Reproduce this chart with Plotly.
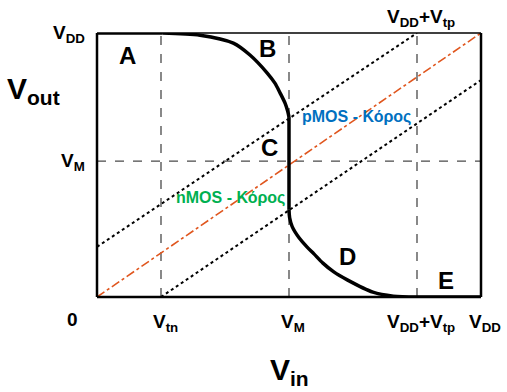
import plotly.graph_objects as go

# ---- data (units: VDD = 6) ----
VDD = 6.0
Vtn = 1.0
VM_in = 3.0
VDDVtp = 5.0
VM_out = 3.09

# transfer curve pieces
a_x = [0.0, 1.02]
a_y = [6.0, 6.0]
b_x = [1.02, 1.61, 2.13, 2.39, 2.66, 2.78, 2.86, 2.94, 2.98, 3.0]
b_y = [6.0, 5.95, 5.77, 5.5, 5.09, 4.86, 4.64, 4.4, 4.22, 4.09]
c_x = [3.0, 3.0]
c_y = [4.09, 1.98]
d_x = [3.0, 3.01, 3.05, 3.16, 3.28, 3.39, 3.53, 3.7, 3.91, 4.31, 4.63, 5.0]
d_y = [1.98, 1.8, 1.6, 1.34, 1.14, 0.98, 0.77, 0.57, 0.39, 0.11, 0.02, 0.0]
e_x = [5.0, 6.0]
e_y = [0.0, 0.0]

diag_x = [0.0, 6.0]
diag_y = [0.0, 6.0]
pmos_x = [0.0, 5.0]
pmos_y = [1.14, 6.0]
nmos_x = [1.0, 6.0]
nmos_y = [0.0, 4.93]

x_tick_vals = [1.0, 3.0, 5.0, 6.0]
x_tick_text = ["V<sub>tn</sub>", "V<sub>M</sub>", "V<sub>DD</sub>+V<sub>tp</sub>", "V<sub>DD</sub>"]
y_tick_vals = [6.0, 3.09]
y_tick_text = ["V<sub>DD</sub>", "V<sub>M</sub>"]

region_labels = ["A", "B", "C", "D", "E"]
region_x = [0.47, 2.67, 2.7, 3.92, 5.46]
region_y = [5.5, 5.65, 3.39, 0.91, 0.38]

FONT = "'Liberation Sans', Arial, sans-serif"
GRAY = "#4a4a4a"

fig = go.Figure()

# dashed guide lines
for xv in [Vtn, VM_in, VDDVtp]:
    fig.add_trace(go.Scatter(x=[xv, xv], y=[0, VDD], mode="lines",
                             line=dict(color=GRAY, width=1.3, dash="dash"), hoverinfo="skip"))
fig.add_trace(go.Scatter(x=[0, VDD], y=[VM_out, VM_out], mode="lines",
                         line=dict(color=GRAY, width=1.3, dash="dash"), hoverinfo="skip"))

# diagonal & load lines
fig.add_trace(go.Scatter(x=diag_x, y=diag_y, mode="lines",
                         line=dict(color="#E0561E", width=1.6, dash="dashdot"), hoverinfo="skip"))
fig.add_trace(go.Scatter(x=pmos_x, y=pmos_y, mode="lines",
                         line=dict(color="black", width=2, dash="dot"), hoverinfo="skip"))
fig.add_trace(go.Scatter(x=nmos_x, y=nmos_y, mode="lines",
                         line=dict(color="black", width=2, dash="dot"), hoverinfo="skip"))

# VTC
for px, py, shp in [(a_x, a_y, "linear"), (b_x, b_y, "spline"), (c_x, c_y, "linear"),
                    (d_x, d_y, "spline"), (e_x, e_y, "linear")]:
    fig.add_trace(go.Scatter(x=px, y=py, mode="lines", cliponaxis=False,
                             line=dict(color="black", width=3.5, shape=shp, smoothing=0.8),
                             hoverinfo="skip"))

annotations = []
# x tick labels
for v, t in zip(x_tick_vals, x_tick_text):
    annotations.append(dict(x=v, y=0, xref="x", yref="y", text="<b>" + t + "</b>",
                            showarrow=False, yanchor="middle", yshift=-26, xshift=4,
                            font=dict(family=FONT, size=19, color="black")))
annotations.append(dict(x=0, y=0, xref="x", yref="y", text="<b>0</b>", showarrow=False,
                        yshift=-22, xshift=-25, font=dict(family=FONT, size=19, color="black")))
# y tick labels
for v, t in zip(y_tick_vals, y_tick_text):
    annotations.append(dict(x=0, y=v, xref="x", yref="y", text="<b>" + t + "</b>",
                            showarrow=False, xanchor="right", xshift=-10, yshift=-1,
                            font=dict(family=FONT, size=19, color="black")))
# top label
annotations.append(dict(x=VDDVtp, y=VDD, xref="x", yref="y",
                        text="<b>V<sub>DD</sub>+V<sub>tp</sub></b>", showarrow=False,
                        yanchor="bottom", yshift=1, xshift=4,
                        font=dict(family=FONT, size=19, color="black")))
# axis titles
annotations.append(dict(x=-0.24, y=0.86, xref="paper", yref="paper",
                        text="<b>V<sub>out</sub></b>", showarrow=False,
                        font=dict(family=FONT, size=30, color="black")))
annotations.append(dict(x=0.5, y=-0.36, xref="paper", yref="paper",
                        text="<b>V<sub>in</sub></b>", showarrow=False,
                        font=dict(family=FONT, size=30, color="black")))
# region labels
for t, xv, yv in zip(region_labels, region_x, region_y):
    annotations.append(dict(x=xv, y=yv, xref="x", yref="y", text="<b>" + t + "</b>",
                            showarrow=False, font=dict(family=FONT, size=24, color="black")))
# device labels
annotations.append(dict(x=4.05, y=4.09, xref="x", yref="y", text="<b>pMOS - Κόρος</b>",
                        showarrow=False, font=dict(family=FONT, size=16, color="#0070C0")))
annotations.append(dict(x=2.08, y=2.25, xref="x", yref="y", text="<b>nMOS - Κόρος</b>",
                        showarrow=False, font=dict(family=FONT, size=16, color="#00B050")))

fig.update_layout(
    width=507, height=392,
    margin=dict(l=97, r=26, t=33, b=95),
    paper_bgcolor="white", plot_bgcolor="white",
    showlegend=False,
    xaxis=dict(range=[0, VDD], visible=False, fixedrange=True),
    yaxis=dict(range=[0, VDD], visible=False, fixedrange=True),
    annotations=annotations,
    shapes=[
        dict(type="line", xref="paper", yref="paper", x0=0, y0=1, x1=1, y1=1,
             line=dict(color="black", width=1.5)),
        dict(type="line", xref="paper", yref="paper", x0=0, y0=0, x1=1, y1=0,
             line=dict(color="black", width=2.5)),
        dict(type="line", xref="paper", yref="paper", x0=0, y0=0, x1=0, y1=1,
             line=dict(color="black", width=2.5)),
        dict(type="line", xref="paper", yref="paper", x0=1, y0=0, x1=1, y1=1,
             line=dict(color="black", width=2.5)),
    ],
)

fig.write_html("out.html", config={"displayModeBar": False})
